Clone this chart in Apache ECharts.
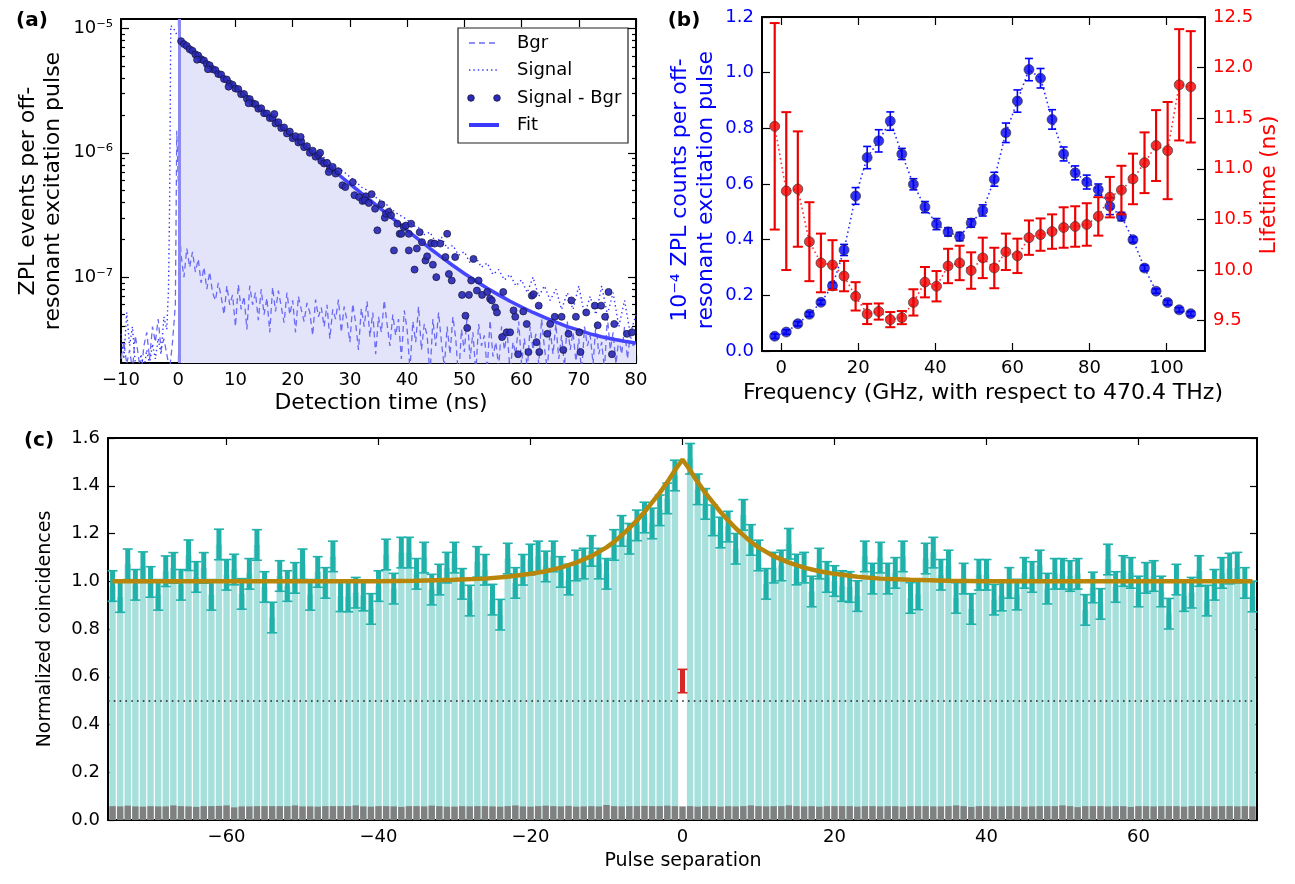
<!DOCTYPE html>
<html>
<head>
<meta charset="utf-8">
<script src="https://cdn.jsdelivr.net/npm/echarts@6/dist/echarts.min.js"></script>
<style>
html, body { margin: 0; padding: 0; background: #fff; }
#fig { width: 1295px; height: 884px; }
</style>
</head>
<body>
<div id="fig"></div>
<script>
// ---------- panel (a): decay curves, values in units of 1e-8 ----------
const E8 = 1e-8;
const fitTime = [0.3, 2, 4, 6, 8, 10, 12, 14, 16, 18, 20, 22, 24, 26, 28, 30, 32, 34, 36, 38, 40,
  42, 44, 46, 48, 50, 52, 54, 56, 58, 60, 62, 64, 66, 68, 70, 72, 74, 76, 78, 80];
const fitVal = [800, 686, 573, 478, 399, 333, 278, 232, 194, 162, 135.7, 113.6, 95.1, 79.7, 66.9, 56.2,
  47.3, 39.9, 33.7, 28.3, 23.8, 20.1, 17.0, 14.5, 12.4, 10.7, 9.3, 8.15, 7.2, 6.4, 5.75, 5.2, 4.75,
  4.35, 4.0, 3.75, 3.5, 3.32, 3.17, 3.05, 2.95];

// Signal - Bgr points [time ns, value e-8]
const dotPoints = [
  [0.5, 790], [1.0, 748], [1.5, 722], [2.0, 680], [2.5, 660], [3.0, 618], [3.5, 605], [4.0, 565],
  [4.5, 552], [5.0, 515], [5.5, 505], [6.0, 470], [6.5, 462], [7.0, 430], [7.5, 425], [8.0, 392],
  [8.5, 388], [9.0, 360], [9.5, 352], [10.0, 328], [10.5, 325], [11.0, 296], [11.5, 297], [12.0, 272],
  [12.5, 270], [13.0, 250], [13.5, 246], [14.0, 226], [14.5, 228], [15.0, 208], [15.5, 207], [16.0, 190],
  [16.5, 190], [17.0, 172], [17.5, 176], [18.0, 158], [18.5, 160], [19.0, 143], [19.5, 148], [20.0, 131],
  [20.5, 136], [21.0, 121], [21.5, 123], [22.0, 111], [22.5, 113], [23.0, 100], [23.5, 104], [24.0, 93],
  [24.5, 96], [25.0, 86], [25.5, 82], [26.0, 83], [26.5, 74], [27.0, 77], [27.5, 68], [28.0, 71],
  [3.3, 560], [5.2, 470], [8.8, 340], [12.3, 250], [16.8, 205], [21.4, 134], [24.8, 100], [26.3, 70],
  [28.7, 54.8], [29.2, 53], [30.5, 58], [30.8, 45.6], [31.6, 44], [32.2, 41], [32.8, 44.7], [33.8, 46.5],
  [32.6, 41.5], [33.3, 39.5], [34.4, 35.5], [34.8, 23.8], [35.5, 38.5], [36.1, 30], [36.3, 32.4],
  [36.8, 33.5], [37.2, 31.4], [37.7, 16.4], [38.3, 26.9], [38.7, 22.3], [39.0, 22.3], [39.4, 25.3],
  [39.8, 26], [40.3, 16.4], [40.3, 22.3], [40.7, 26.9], [41.3, 11.5], [41.7, 17], [42.2, 23], [42.6, 19.1],
  [43.2, 13.6], [43.5, 14.7], [44.2, 18.8], [44.5, 12.6], [44.8, 18.6], [45.1, 10], [45.8, 18.6],
  [46.7, 14.5], [47.0, 22.3], [47.3, 10.6], [47.8, 9.4], [48.4, 14.5], [49.6, 7.2], [50.2, 4.9],
  [50.5, 3.9], [50.8, 7.2], [51.2, 9.4], [51.6, 14], [52.2, 7.8], [52.5, 9.4], [53.1, 7.2], [54.0, 7.6],
  [54.5, 6.7], [54.8, 6.5], [55.4, 5.7], [55.7, 5.2], [56.6, 3.3], [56.8, 7.6], [57.4, 3.6], [58.0, 3.6],
  [58.6, 5.4], [58.9, 4.8], [59.4, 2.4], [60.3, 5.3], [60.9, 4.2], [61.2, 2.5], [61.8, 7.1], [62.1, 7.3],
  [62.6, 3], [63.0, 5.9], [63.1, 2.5], [64.5, 3.5], [65.0, 4.2], [65.8, 4.8], [67.0, 4.8], [67.3, 2.6],
  [68.2, 3.5], [68.7, 6.5], [69.5, 4.8], [70.1, 3.6], [70.3, 2.5], [71.3, 5.2], [72.8, 5.9], [73.3, 4.1],
  [73.9, 5.9], [74.6, 4.8], [75.2, 7.6], [75.8, 2.4], [76.2, 4.2], [78.4, 3.5], [79.3, 3.6]
];

// Signal (dotted) [time ns, value e-8]
const signalPoints = [
  [-10, 3.5], [-9.5, 2.2], [-9, 5.2], [-8.5, 2.8], [-8, 4.0], [-7.5, 2.0], [-7, 1.6], [-6.5, 2.4],
  [-6, 1.8], [-5.5, 2.6], [-5, 2.0], [-4.5, 2.9], [-4, 2.2], [-3.5, 3.2], [-3, 2.4], [-2.5, 4.8],
  [-2, 3.8], [-1.7, 8], [-1.5, 40], [-1.3, 1050], [-0.8, 1000], [-0.3, 900], [0.3, 810],
  [1, 760], [2, 695], [3, 628], [4, 580], [5, 530], [6, 486], [7, 442], [8, 405], [9, 372], [10, 340],
  [11, 310], [12, 285], [13, 262], [14, 240], [15, 220], [16, 200], [17, 185], [18, 170], [19, 156],
  [20, 143], [21, 130], [22, 121], [23, 110], [24, 103], [25, 95], [26, 88], [27, 80], [28, 75],
  [29, 70], [30, 64], [31, 59], [32, 53], [33, 50], [34, 46], [35, 42], [36, 40], [37, 36], [38, 33],
  [39, 31], [40, 29], [41, 26], [42, 25], [43, 22], [44, 23], [45, 19], [46, 21], [47, 17], [48, 18],
  [49, 15], [50, 16], [51, 13], [52, 14.5], [53, 12], [54, 13], [55, 10.5], [56, 11.5], [57, 9.5],
  [58, 10.5], [59, 8.5], [60, 9.5], [61, 7.5], [62, 10], [63, 7], [64, 8.5], [65, 6.5], [66, 8],
  [67, 5.5], [68, 7.5], [69, 5.5], [70, 8.5], [71, 5], [72, 7], [73, 5], [74, 8.5], [75, 5], [76, 7.5],
  [77, 4], [78, 6.5], [79, 3.5], [80, 5]
];

// Bgr (dashed) [time ns, value e-8]
const bgrPoints = [
  [-10, 2.2], [-9.5, 3.0], [-9, 2.0], [-8.5, 2.6], [-8, 1.8], [-7.5, 3.4], [-7, 2.4], [-6.5, 1.6],
  [-6, 2.8], [-5.5, 3.6], [-5, 2.2], [-4.5, 4.0], [-4, 3.0], [-3.5, 4.6], [-3, 2.6], [-2.5, 3.2],
  [-2, 2.4], [-1.5, 1.8], [-1, 3.0], [-0.5, 6.0], [-0.25, 150], [0, 60], [0.25, 25],
  [0.5, 15], [1.0, 10], [1.5, 17], [2.0, 12], [2.5, 16], [3.0, 11], [3.5, 14], [4.0, 9], [4.5, 12],
  [5.0, 8], [5.5, 11], [6.0, 7.5], [6.5, 6.5], [7.0, 9], [7.5, 7], [8.0, 5], [8.5, 8.5], [9.0, 6],
  [9.5, 7.2], [10.0, 4], [10.5, 8.7], [11, 5.5], [11.5, 7], [12, 3.8], [12.5, 8.5], [13, 6], [13.5, 7.5],
  [14, 4.5], [14.5, 8], [15, 5], [15.5, 6.8], [16, 3.6], [16.5, 8.3], [17, 5.3], [17.5, 7.8], [18, 5.8],
  [18.5, 4.3], [19, 7.5], [19.5, 5.0], [20, 6.5], [20.5, 3.6], [21, 7], [21.5, 5.5], [22, 4.4],
  [22.5, 6.2], [23, 5.2], [23.5, 3.4], [24, 6.6], [24.5, 4.8], [25, 5.7], [25.5, 4], [26, 6], [26.5, 3.2],
  [27, 5.5], [27.5, 4.6], [28, 6.6], [28.5, 3.6], [29, 5.8], [29.5, 4.5], [30, 3.0], [30.5, 6.1],
  [31, 4.3], [31.5, 2.6], [32, 5.6], [32.5, 4.0], [33, 6.4], [33.5, 3.3], [34, 5.2], [34.5, 2.4],
  [35, 4.8], [35.5, 3.6], [36, 6.5], [36.5, 4.2], [37, 2.8], [37.5, 5.0], [38, 3.4], [38.5, 4.6],
  [39, 2.2], [39.5, 5.4], [40, 3.8], [40.5, 1.8], [41, 4.4], [41.5, 3.0], [42, 5.8], [42.5, 2.6],
  [43, 4.2], [43.5, 3.4], [44, 1.6], [44.5, 4.6], [45, 2.8], [45.5, 5.2], [46, 3.0], [46.5, 1.9],
  [47, 4.0], [47.5, 2.4], [48, 4.8], [48.5, 3.2], [49, 1.5], [49.5, 3.8], [50, 2.5], [50.5, 5.0],
  [51, 2.2], [51.5, 3.6], [52, 1.7], [52.5, 4.2], [53, 2.8], [53.5, 3.4], [54, 1.8], [54.5, 4.5],
  [55, 2.3], [55.5, 3.0], [56, 1.9], [56.5, 4.0], [57, 2.6], [57.5, 3.6], [58, 1.7], [58.5, 3.0],
  [59, 2.4], [59.5, 4.4], [60, 2.0], [60.5, 3.2], [61, 1.8], [61.5, 4.0], [62, 2.6], [62.5, 3.5],
  [63, 2.0], [63.5, 4.6], [64, 2.7], [64.5, 1.8], [65, 3.8], [65.5, 2.4], [66, 4.2], [66.5, 2.2],
  [67, 3.4], [67.5, 1.9], [68, 4.4], [68.5, 2.6], [69, 3.6], [69.5, 2.1], [70, 3.2], [70.5, 1.7],
  [71, 4.0], [71.5, 2.8], [72, 3.4], [72.5, 2.0], [73, 4.2], [73.5, 2.4], [74, 3.0], [74.5, 1.8],
  [75, 4.8], [75.5, 2.6], [76, 3.6], [76.5, 2.0], [77, 3.2], [77.5, 2.4], [78, 4.0], [78.5, 2.2],
  [79, 3.4], [79.5, 2.8], [80, 3.0]
];
const logMajor = [1e-7, 1e-6, 1e-5];
const logMinor = [3e-8, 4e-8, 5e-8, 6e-8, 7e-8, 8e-8, 9e-8, 2e-7, 3e-7, 4e-7, 5e-7, 6e-7, 7e-7, 8e-7, 9e-7,
  2e-6, 3e-6, 4e-6, 5e-6, 6e-6, 7e-6, 8e-6, 9e-6];

// ---------- panel (b): frequency scan ----------
const freq = [-1.7, 1.3, 4.3, 7.3, 10.3, 13.3, 16.3, 19.3, 22.3, 25.3, 28.3, 31.3, 34.3, 37.3, 40.3,
  43.3, 46.3, 49.3, 52.3, 55.3, 58.3, 61.3, 64.3, 67.3, 70.3, 73.3, 76.3, 79.3, 82.3, 85.3, 88.3, 91.3,
  94.3, 97.3, 100.3, 103.3, 106.3];
const counts = [0.053, 0.068, 0.098, 0.132, 0.175, 0.234, 0.363, 0.557, 0.695, 0.755, 0.826, 0.708,
  0.599, 0.517, 0.456, 0.428, 0.411, 0.46, 0.505, 0.617, 0.784, 0.898, 1.011, 0.98, 0.832, 0.708, 0.64,
  0.607, 0.58, 0.52, 0.483, 0.40, 0.298, 0.215, 0.174, 0.148, 0.134];
const countsErr = [0.008, 0.008, 0.008, 0.008, 0.008, 0.012, 0.02, 0.03, 0.04, 0.04, 0.033, 0.02, 0.02,
  0.02, 0.02, 0.015, 0.015, 0.015, 0.02, 0.025, 0.035, 0.04, 0.04, 0.035, 0.035, 0.025, 0.025, 0.025,
  0.02, 0.03, 0.015, 0.01, 0.01, 0.008, 0.008, 0.008, 0.008];
const lifetime = [11.42, 10.78, 10.80, 10.28, 10.07, 10.05, 9.94, 9.74, 9.566, 9.59, 9.51, 9.53, 9.68,
  9.88, 9.84, 10.04, 10.07, 9.995, 10.12, 10.02, 10.18, 10.14, 10.32, 10.35, 10.38, 10.42, 10.43, 10.45,
  10.53, 10.72, 10.79, 10.90, 11.06, 11.23, 11.18, 11.83, 11.81];
const lifetimeErr = [1.02, 0.78, 0.57, 0.39, 0.29, 0.245, 0.15, 0.14, 0.1, 0.08, 0.075, 0.065, 0.13, 0.15,
  0.15, 0.17, 0.17, 0.18, 0.2, 0.2, 0.18, 0.17, 0.17, 0.16, 0.17, 0.2, 0.2, 0.21, 0.19, 0.2, 0.24, 0.25,
  0.3, 0.35, 0.48, 0.55, 0.55];

// ---------- panel (c): coincidence histogram ----------
const pulseSep = [];  // -75 .. 75
for (let n = -75; n <= 75; n++) pulseSep.push(n);
const coinc = [
  0.980, 0.934, 1.071, 0.985, 1.059, 0.997, 0.943, 1.042, 1.056, 0.985, 1.109, 1.018, 1.056, 0.943,
  1.154, 1.027, 1.049, 0.947, 1.031, 1.152, 0.976, 0.848, 1.022, 0.980, 1.014, 1.071, 0.943, 1.039,
  0.993, 1.104, 0.937, 0.936, 0.952, 0.940, 0.884, 0.980, 1.112, 0.969, 1.120,
  1.120, 1.031, 1.099, 0.965, 1.007, 1.057, 1.099, 0.989, 0.919, 1.081, 1.048, 0.923, 0.860, 1.095,
  0.993, 1.048, 1.091, 1.104, 1.062, 1.104, 1.039, 1.007, 1.066, 1.074, 1.127, 1.074, 1.031, 1.152,
  1.211, 1.178, 1.234, 1.267, 1.242, 1.297, 1.347, 1.443,
  null,
  1.513, 1.385, 1.324, 1.255, 1.204, 1.229, 1.136, 1.278, 1.173, 1.108, 0.989, 1.057, 1.066, 1.157,
  1.049, 1.057, 0.957, 1.074, 1.018, 1.001, 0.980, 0.976, 0.938, 1.104, 1.011, 1.099, 1.011, 1.035,
  1.104, 0.930, 0.945, 1.095, 1.120, 1.027, 1.066, 0.930, 1.011, 0.884, 1.027,
  1.027, 0.923, 0.940, 0.993, 0.944, 1.035, 1.018, 1.066, 0.969, 1.031, 1.031, 1.022, 1.031, 0.880,
  0.974, 0.905, 1.091, 0.976, 1.043, 1.035, 0.957, 1.014, 1.022, 0.957, 0.864, 1.007, 0.938, 0.952,
  1.043, 0.919, 0.985, 1.035, 1.053, 1.057, 0.993, 0.936
];
const coincErr = 0.064;
const zeroDelay = { x: 0, value: 0.582, err: 0.049 };
const backgr = [
  .058, .057, .060, .057, .056, .058, .057, .057, .061, .058,
  .057, .055, .058, .058, .059, .061, .053, .057, .057, .058,
  .058, .058, .058, .058, .061, .057, .057, .056, .058, .058,
  .058, .058, .061, .057, .056, .058, .058, .057, .055, .058,
  .058, .057, .060, .058, .056, .056, .058, .057, .058, .058,
  .057, .056, .058, .061, .057, .056, .058, .060, .058, .057,
  .059, .056, .057, .058, .057, .063, .058, .057, .058, .058,
  .059, .058, .058, .060, .058, .057, .058, .056, .058, .058,
  .056, .058, .057, .058, .061, .058, .057, .058, .058, .061,
  .058, .057, .058, .056, .058, .058, .058, .058, .056, .058,
  .058, .057, .058, .058, .056, .058, .058, .058, .057, .057,
  .058, .061, .058, .055, .058, .058, .057, .057, .058, .058,
  .056, .057, .058, .058, .058, .061, .058, .054, .058, .058,
  .058, .057, .058, .058, .055, .058, .058, .057, .058, .058,
  .058, .056, .058, .058, .058, .057, .058, .058, .057, .058,
  .057
];
const g2FitX = [-75, -40, -35, -30, -26, -23, -20, -18, -16, -14, -12, -10, -9, -8, -7, -6, -5, -4, -3,
  -2, -1, 0, 1, 2, 3, 4, 5, 6, 7, 8, 9, 10, 12, 14, 16, 18, 20, 23, 26, 30, 35, 40, 75];
const g2FitV = [1.0, 1.0, 1.002, 1.006, 1.011, 1.019, 1.031, 1.042, 1.057, 1.078, 1.105, 1.142, 1.165,
  1.193, 1.222, 1.255, 1.29, 1.33, 1.37, 1.415, 1.465, 1.51, 1.465, 1.415, 1.37, 1.33, 1.29, 1.255,
  1.222, 1.193, 1.165, 1.142, 1.105, 1.078, 1.057, 1.042, 1.031, 1.019, 1.011, 1.006, 1.002, 1.0, 1.0];
const halfLevel = 0.5;

// ---------- helpers ----------
const FONT = 'DejaVu Sans';
const minus = v => String(v).replace('-', '\u2212');
const sup = { '-5': '\u207b\u2075', '-6': '\u207b\u2076', '-7': '\u207b\u2077' };
const frameLine = { show: true, onZero: false, lineStyle: { color: '#000', width: 2 } };
const noLine = { show: false, onZero: false };
function ticks(len, custom) {
  const t = { show: true, inside: true, length: len, lineStyle: { color: '#000', width: 1.2 } };
  if (custom) t.customValues = custom;
  return t;
}
function labels(color, fmt, custom) {
  const l = { show: true, color: color, fontFamily: FONT, fontSize: 18, margin: 8, formatter: fmt };
  if (custom) l.customValues = custom;
  return l;
}
const hidden = { show: false };
function errorBars(color, width, cap, capWidth) {
  return function (params, api) {
    const x = api.value(0);
    const lo = api.coord([x, api.value(1)]);
    const hi = api.coord([x, api.value(2)]);
    return {
      type: 'group',
      children: [
        { type: 'line', shape: { x1: lo[0], y1: lo[1], x2: hi[0], y2: hi[1] }, style: { stroke: color, lineWidth: width } },
        { type: 'line', shape: { x1: lo[0] - cap, y1: lo[1], x2: lo[0] + cap, y2: lo[1] }, style: { stroke: color, lineWidth: capWidth } },
        { type: 'line', shape: { x1: hi[0] - cap, y1: hi[1], x2: hi[0] + cap, y2: hi[1] }, style: { stroke: color, lineWidth: capWidth } }
      ]
    };
  };
}
const e8 = pts => pts.map(p => [p[0], p[1] * E8]);
function title(text, x, y, size, color, vertical, lineHeight) {
  const t = { type: 'text', x: x, y: y,
    style: { text: text, font: size + 'px "DejaVu Sans"', fill: color, textAlign: 'center', textVerticalAlign: 'middle' } };
  if (vertical) t.rotation = Math.PI / 2;
  if (lineHeight) t.style.lineHeight = lineHeight;
  return t;
}

const yMinA = 2.04e-8, yMaxA = 1.19e-5;
const bTicks = [0, 20, 40, 60, 80, 100];
const lifeTicks = [9.5, 10, 10.5, 11, 11.5, 12, 12.5];
const cTicks = [-60, -40, -20, 0, 20, 40, 60];

const option = {
  animation: false,
  textStyle: { fontFamily: FONT },
  grid: [
    { left: 121, top: 19, width: 515, height: 344 },
    { left: 762, top: 17, width: 443, height: 334 },
    { left: 108, top: 438, width: 1149, height: 382 }
  ],
  xAxis: [
    { gridIndex: 0, type: 'value', min: -10, max: 80, interval: 10, position: 'bottom',
      axisLine: frameLine, axisTick: ticks(8), axisLabel: labels('#000', minus), splitLine: hidden },
    { gridIndex: 0, type: 'value', min: -10, max: 80, interval: 10, position: 'top',
      axisLine: frameLine, axisTick: ticks(8), axisLabel: hidden, splitLine: hidden },
    { gridIndex: 1, type: 'value', min: -5, max: 110, position: 'bottom',
      axisLine: frameLine, axisTick: ticks(8, bTicks), axisLabel: labels('#000', minus, bTicks), splitLine: hidden },
    { gridIndex: 1, type: 'value', min: -5, max: 110, position: 'top',
      axisLine: frameLine, axisTick: ticks(8, bTicks), axisLabel: hidden, splitLine: hidden },
    { gridIndex: 2, type: 'value', min: -75.6, max: 75.6, position: 'bottom',
      axisLine: frameLine, axisTick: ticks(7, cTicks), axisLabel: labels('#000', minus, cTicks), splitLine: hidden },
    { gridIndex: 2, type: 'value', min: -75.6, max: 75.6, position: 'top',
      axisLine: frameLine, axisTick: ticks(7, cTicks), axisLabel: hidden, splitLine: hidden }
  ],
  yAxis: [
    { gridIndex: 0, type: 'log', logBase: 10, min: yMinA, max: yMaxA, position: 'left',
      axisLine: frameLine, axisTick: ticks(8, logMajor),
      axisLabel: labels('#000', v => '10' + sup[String(Math.round(Math.log10(v)))], logMajor), splitLine: hidden },
    { gridIndex: 0, type: 'log', logBase: 10, min: yMinA, max: yMaxA, position: 'left',
      axisLine: noLine, axisTick: ticks(4, logMinor), axisLabel: hidden, splitLine: hidden },
    { gridIndex: 0, type: 'log', logBase: 10, min: yMinA, max: yMaxA, position: 'right',
      axisLine: frameLine, axisTick: ticks(8, logMajor), axisLabel: hidden, splitLine: hidden },
    { gridIndex: 0, type: 'log', logBase: 10, min: yMinA, max: yMaxA, position: 'right',
      axisLine: noLine, axisTick: ticks(4, logMinor), axisLabel: hidden, splitLine: hidden },
    { gridIndex: 1, type: 'value', min: 0, max: 1.2, interval: 0.2, position: 'left',
      axisLine: frameLine, axisTick: ticks(8), axisLabel: labels('#0000ff', v => v.toFixed(1)), splitLine: hidden },
    { gridIndex: 1, type: 'value', min: 9.2, max: 12.5, position: 'right',
      axisLine: frameLine, axisTick: ticks(8, lifeTicks),
      axisLabel: labels('#ff0000', v => v.toFixed(1), lifeTicks), splitLine: hidden },
    { gridIndex: 2, type: 'value', min: 0, max: 1.6, interval: 0.2, position: 'left',
      axisLine: frameLine, axisTick: ticks(7), axisLabel: labels('#000', v => v.toFixed(1)), splitLine: hidden },
    { gridIndex: 2, type: 'value', min: 0, max: 1.6, interval: 0.2, position: 'right',
      axisLine: frameLine, axisTick: ticks(7), axisLabel: hidden, splitLine: hidden }
  ],
  series: [
    // ----- (a)
    { type: 'line', xAxisIndex: 0, yAxisIndex: 0, z: 1, showSymbol: false, silent: true,
      data: fitTime.map((t, i) => [t, fitVal[i] * E8]),
      lineStyle: { width: 0 }, areaStyle: { color: '#e3e3fa', opacity: 1, origin: 'start' },
      markLine: { silent: true, symbol: ['none', 'none'], label: { show: false },
        lineStyle: { color: '#8a8af2', width: 3, type: 'solid' }, data: [{ xAxis: 0.1 }] } },
    { type: 'line', xAxisIndex: 0, yAxisIndex: 0, z: 2, showSymbol: false, data: e8(bgrPoints),
      lineStyle: { color: '#6a6af4', width: 1.3, type: [6, 4] } },
    { type: 'line', xAxisIndex: 0, yAxisIndex: 0, z: 3, showSymbol: false, data: e8(signalPoints),
      lineStyle: { color: '#3434ff', width: 1.4, type: [1.4, 3] } },
    { type: 'line', xAxisIndex: 0, yAxisIndex: 0, z: 4, showSymbol: false,
      data: fitTime.map((t, i) => [t, fitVal[i] * E8]),
      lineStyle: { color: '#4545ff', width: 3.5 } },
    { type: 'scatter', xAxisIndex: 0, yAxisIndex: 0, z: 5, symbolSize: 7, data: e8(dotPoints),
      itemStyle: { color: '#2a2ab8', borderColor: '#16163a', borderWidth: 0.8, opacity: 0.92 } },
    // ----- (b)
    { type: 'line', xAxisIndex: 2, yAxisIndex: 4, z: 2, showSymbol: false,
      data: freq.map((f, i) => [f, counts[i]]),
      lineStyle: { color: '#2a2aff', width: 1.6, type: [1.6, 3] } },
    { type: 'custom', xAxisIndex: 2, yAxisIndex: 4, z: 3, renderItem: errorBars('#0000ff', 1.6, 4, 1.6),
      encode: { x: 0, y: [1, 2] },
      data: freq.map((f, i) => [f, counts[i] - countsErr[i], counts[i] + countsErr[i]]) },
    { type: 'scatter', xAxisIndex: 2, yAxisIndex: 4, z: 4, symbolSize: 10,
      data: freq.map((f, i) => [f, counts[i]]),
      itemStyle: { color: '#0000ee', borderColor: '#333', borderWidth: 0.8 } },
    { type: 'line', xAxisIndex: 2, yAxisIndex: 5, z: 5, showSymbol: false,
      data: freq.map((f, i) => [f, lifetime[i]]),
      lineStyle: { color: '#ff3030', width: 1.6, type: [1.6, 3] } },
    { type: 'custom', xAxisIndex: 2, yAxisIndex: 5, z: 6, renderItem: errorBars('#ee0000', 2.2, 5, 2),
      encode: { x: 0, y: [1, 2] },
      data: freq.map((f, i) => [f, lifetime[i] - lifetimeErr[i], lifetime[i] + lifetimeErr[i]]) },
    { type: 'scatter', xAxisIndex: 2, yAxisIndex: 5, z: 7, symbolSize: 10,
      data: freq.map((f, i) => [f, lifetime[i]]),
      itemStyle: { color: '#ee0000', borderColor: '#333', borderWidth: 0.8 } },
    // ----- (c)
    { type: 'bar', xAxisIndex: 4, yAxisIndex: 6, z: 1, barWidth: 6.4, barGap: '-100%',
      data: pulseSep.map((n, i) => [n, coinc[i]]).filter(p => p[1] !== null),
      itemStyle: { color: '#a6e0dc' } },
    { type: 'bar', xAxisIndex: 4, yAxisIndex: 6, z: 2, barWidth: 6.4, barGap: '-100%',
      data: pulseSep.map((n, i) => [n, backgr[i]]),
      itemStyle: { color: '#808080' } },
    { type: 'custom', xAxisIndex: 4, yAxisIndex: 6, z: 3, renderItem: errorBars('#20b2aa', 5, 5, 1.6),
      encode: { x: 0, y: [1, 2] },
      data: pulseSep.map((n, i) => [n, coinc[i]]).filter(p => p[1] !== null)
        .map(p => [p[0], p[1] - coincErr, p[1] + coincErr]) },
    { type: 'custom', xAxisIndex: 4, yAxisIndex: 6, z: 3, renderItem: errorBars('#d62728', 5, 5, 1.6),
      encode: { x: 0, y: [1, 2] },
      data: [[zeroDelay.x, zeroDelay.value - zeroDelay.err, zeroDelay.value + zeroDelay.err]] },
    { type: 'line', xAxisIndex: 4, yAxisIndex: 6, z: 5, showSymbol: false,
      data: g2FitX.map((x, i) => [x, g2FitV[i]]),
      lineStyle: { color: '#b8860b', width: 4.5 },
      markLine: { silent: true, symbol: ['none', 'none'], label: { show: false },
        lineStyle: { color: '#222', width: 1.6, type: [1.6, 4.2] }, data: [{ yAxis: halfLevel }] } }
  ],
  graphic: [
    { type: 'text', x: 32, y: 21, style: { text: '(a)', font: 'bold 20px "DejaVu Sans"', fill: '#000', textAlign: 'center', textVerticalAlign: 'middle' } },
    { type: 'text', x: 684, y: 21, style: { text: '(b)', font: 'bold 20px "DejaVu Sans"', fill: '#000', textAlign: 'center', textVerticalAlign: 'middle' } },
    { type: 'text', x: 39, y: 441, style: { text: '(c)', font: 'bold 20px "DejaVu Sans"', fill: '#000', textAlign: 'center', textVerticalAlign: 'middle' } },
    title('Detection time (ns)', 381, 403, 22, '#000'),
    title('ZPL events per off-\nresonant excitation pulse', 41, 191, 22, '#000', true, 25),
    title('Frequency (GHz, with respect to 470.4 THz)', 983, 393, 22, '#000'),
    title('10\u207b\u2074 ZPL counts per off-\nresonant excitation pulse', 693, 190, 22, '#0000ff', true, 26),
    title('Lifetime (ns)', 1269, 185, 22, '#ff0000', true),
    title('Normalized coincidences', 45, 629, 19, '#000', true),
    title('Pulse separation', 683, 861, 19, '#000'),
    // legend of panel (a)
    { type: 'group', z: 100, children: [
      { type: 'rect', shape: { x: 458, y: 28, width: 170, height: 115 }, style: { fill: '#fff', stroke: '#222', lineWidth: 1.2 } },
      { type: 'line', shape: { x1: 469, y1: 43, x2: 497, y2: 43 }, style: { stroke: '#6a6af4', lineWidth: 1.3, lineDash: [6, 4] } },
      { type: 'text', x: 517, y: 43, style: { text: 'Bgr', font: '18px "DejaVu Sans"', fill: '#000', textVerticalAlign: 'middle' } },
      { type: 'line', shape: { x1: 469, y1: 70, x2: 497, y2: 70 }, style: { stroke: '#3434ff', lineWidth: 1.4, lineDash: [1.4, 3] } },
      { type: 'text', x: 517, y: 70, style: { text: 'Signal', font: '18px "DejaVu Sans"', fill: '#000', textVerticalAlign: 'middle' } },
      { type: 'circle', shape: { cx: 471, cy: 98, r: 3.3 }, style: { fill: '#2a2ab8', stroke: '#16163a', lineWidth: 0.8 } },
      { type: 'circle', shape: { cx: 497, cy: 98, r: 3.3 }, style: { fill: '#2a2ab8', stroke: '#16163a', lineWidth: 0.8 } },
      { type: 'text', x: 517, y: 98, style: { text: 'Signal - Bgr', font: '18px "DejaVu Sans"', fill: '#000', textVerticalAlign: 'middle' } },
      { type: 'line', shape: { x1: 469, y1: 125, x2: 499, y2: 125 }, style: { stroke: '#3a3aff', lineWidth: 4 } },
      { type: 'text', x: 517, y: 125, style: { text: 'Fit', font: '18px "DejaVu Sans"', fill: '#000', textVerticalAlign: 'middle' } }
    ] }
  ]
};

const chart = echarts.init(document.getElementById('fig'), null, { renderer: 'canvas' });
chart.setOption(option);
</script>
</body>
</html>
